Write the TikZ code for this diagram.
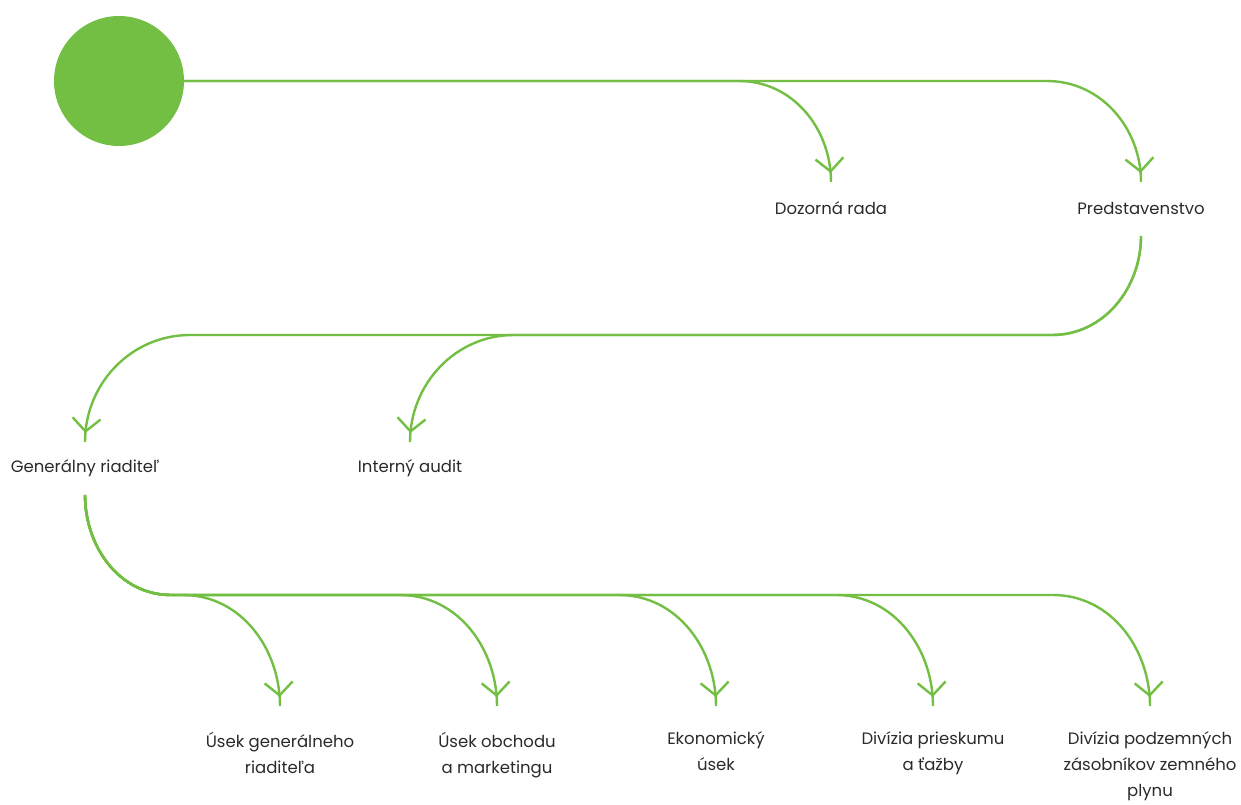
\documentclass[tikz,border=0pt]{standalone}
\usepackage{fontspec}
\setmainfont{Poppins}
\usetikzlibrary{arrows.meta,decorations.markings}
\definecolor{leaf}{HTML}{72BF44}
\definecolor{ink}{HTML}{2B2A29}

\begin{document}
\begin{tikzpicture}[x=1pt,y=1pt,
    link/.style={draw=leaf, line width=2.4pt,
      postaction={decorate, decoration={markings,
        mark=at position -9pt with {\arrow{Straight Barb[length=13pt,width=28pt]}}}}},
    lbl/.style={text=ink, font=\fontsize{16.5}{26}\selectfont, align=center,
      anchor=north, inner xsep=0pt, inner ysep=#1, execute at begin node=\strut}]
      \useasboundingbox (0,0) rectangle (1241,-805);
      \node [circle, fill=leaf, minimum size=130pt, inner sep=0pt] (root) at (119,-81) {};
      \node [lbl=13.8pt] (dozor) at (831,-182) {Dozorná rada};
      \node [lbl=13.8pt] (pred) at (1141,-182) {Predstavenstvo};
      \node [lbl=11.8pt] (gen) at (85,-442) {Generálny riaditeľ};
      \node [lbl=11.8pt] (audit) at (410,-442) {Interný audit};
      \node [lbl=25.6pt] (usek1) at (280,-706) {Úsek generálneho\\riaditeľa};
      \node [lbl=25.6pt] (usek2) at (497,-706) {Úsek obchodu\\a marketingu};
      \node [lbl=25.6pt] (ekon) at (716,-706) {Ekonomický\\úsek};
      \node [lbl=25.6pt] (div1) at (933,-706) {Divízia prieskumu\\a ťažby};
      \node [lbl=25.6pt] (div2) at (1150,-706) {Divízia podzemných\\zásobníkov zemného\\plynu};
      \draw [link] (root.east) -- (739,-81) to [out=0,in=90] (dozor.north);
      \draw [link] (root.east) -- (1047,-81) to [out=0,in=90] (pred.north);
      \draw [link] (pred.south) to [out=-90,in=0] (1052,-335) -- (190,-335) to [out=180,in=90] (gen.north);
      \draw [link] (pred.south) to [out=-90,in=0] (1052,-335) -- (514,-335) to [out=180,in=90] (audit.north);
      \draw [link] ([yshift=-3pt]gen.south) to [out=-90,in=180] (171,-595) -- (183,-595) to [out=0,in=90] (usek1.north);
      \draw [link] ([yshift=-3pt]gen.south) to [out=-90,in=180] (171,-595) -- (400,-595) to [out=0,in=90] (usek2.north);
      \draw [link] ([yshift=-3pt]gen.south) to [out=-90,in=180] (171,-595) -- (619,-595) to [out=0,in=90] (ekon.north);
      \draw [link] ([yshift=-3pt]gen.south) to [out=-90,in=180] (171,-595) -- (836,-595) to [out=0,in=90] (div1.north);
      \draw [link] ([yshift=-3pt]gen.south) to [out=-90,in=180] (171,-595) -- (1053,-595) to [out=0,in=90] (div2.north);
    \end{tikzpicture}
\end{document}
